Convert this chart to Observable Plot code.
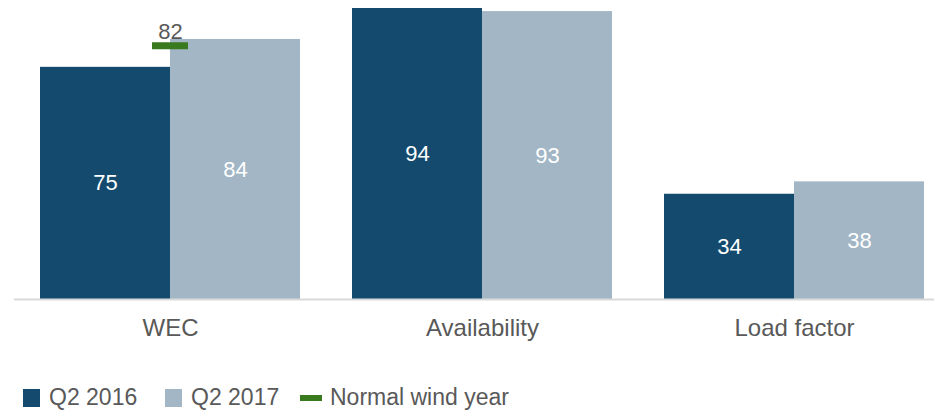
<!DOCTYPE html>
<html>
<head>
<meta charset="utf-8">
<script src="https://cdn.jsdelivr.net/npm/d3@7"></script>
<script src="https://cdn.jsdelivr.net/npm/@observablehq/plot@0.6"></script>
<style>
  body { margin: 0; background: #fff; font-family: "Liberation Sans", Arial, sans-serif; }
  #legend { position: relative; height: 41px; font-size: 23px; color: #595959; }
  .item { position: absolute; top: 0; display: flex; align-items: center; height: 41px; }
  .sw { width: 17px; height: 18px; margin-right: 9px; }
  .ln { width: 22px; height: 6px; margin-right: 8px; }
</style>
</head>
<body>
<div id="chart"></div>
<div id="legend"></div>
<script>
const categories = ["WEC", "Availability", "Load factor"];
const series = ["Q2 2016", "Q2 2017"];
const values2016 = [75, 94, 34];
const values2017 = [84, 93, 38];
const normalWindCategory = ["WEC"];
const normalWindValue = [82];
const colors = {"Q2 2016": "#134a6e", "Q2 2017": "#a2b6c5", "Normal wind year": "#3a7a1f"};

const rows = categories.flatMap((c, i) => [
  {category: c, series: series[0], value: values2016[i]},
  {category: c, series: series[1], value: values2017[i]}
]);
const left = rows.filter(d => d.series === series[0]);
const right = rows.filter(d => d.series === series[1]);
const normal = normalWindCategory.map((c, i) => ({category: c, value: normalWindValue[i]}));

const chart = Plot.plot({
  width: 934,
  height: 377,
  marginLeft: 14,
  marginRight: 0,
  marginTop: 0,
  marginBottom: 0,
  style: {fontFamily: "Liberation Sans, Arial, sans-serif", fontSize: "22px", background: "#fff"},
  x: {domain: categories, range: [40, 924], paddingInner: 52 / 312, paddingOuter: 0, axis: null},
  y: {domain: [0, 94], range: [299, 8], axis: null},
  marks: [
    Plot.barY(left, {x: "category", y: "value", fill: colors["Q2 2016"], insetLeft: 0, insetRight: 130}),
    Plot.barY(right, {x: "category", y: "value", fill: colors["Q2 2017"], insetLeft: 130, insetRight: 0}),
    Plot.ruleY([0], {stroke: "#d9d9d9", strokeWidth: 2}),
    Plot.text(left, {x: "category", y: d => d.value / 2, text: d => String(d.value), dx: -65, fill: "#fff", fontSize: 22}),
    Plot.text(right, {x: "category", y: d => d.value / 2, text: d => String(d.value), dx: 65, fill: "#fff", fontSize: 22}),
    Plot.tickY(normal, {x: "category", y: "value", stroke: colors["Normal wind year"], strokeWidth: 7, insetLeft: 112, insetRight: 112}),
    Plot.text(normal, {x: "category", y: "value", text: d => String(d.value), dy: -14, fill: "#595959", fontSize: 22}),
    Plot.text(categories, {x: d => d, y: 0, text: d => d, dy: 29, fill: "#595959", fontSize: 24})
  ]
});
document.getElementById("chart").appendChild(chart);

const legendItems = [
  {label: "Q2 2016", type: "sw", left: 23},
  {label: "Q2 2017", type: "sw", left: 165},
  {label: "Normal wind year", type: "ln", left: 300}
];
const legend = document.getElementById("legend");
for (const it of legendItems) {
  const el = document.createElement("div");
  el.className = "item";
  el.style.left = it.left + "px";
  const s = document.createElement("div");
  s.className = it.type;
  s.style.background = colors[it.label];
  const t = document.createElement("span");
  t.textContent = it.label;
  el.appendChild(s); el.appendChild(t);
  legend.appendChild(el);
}
</script>
</body>
</html>
